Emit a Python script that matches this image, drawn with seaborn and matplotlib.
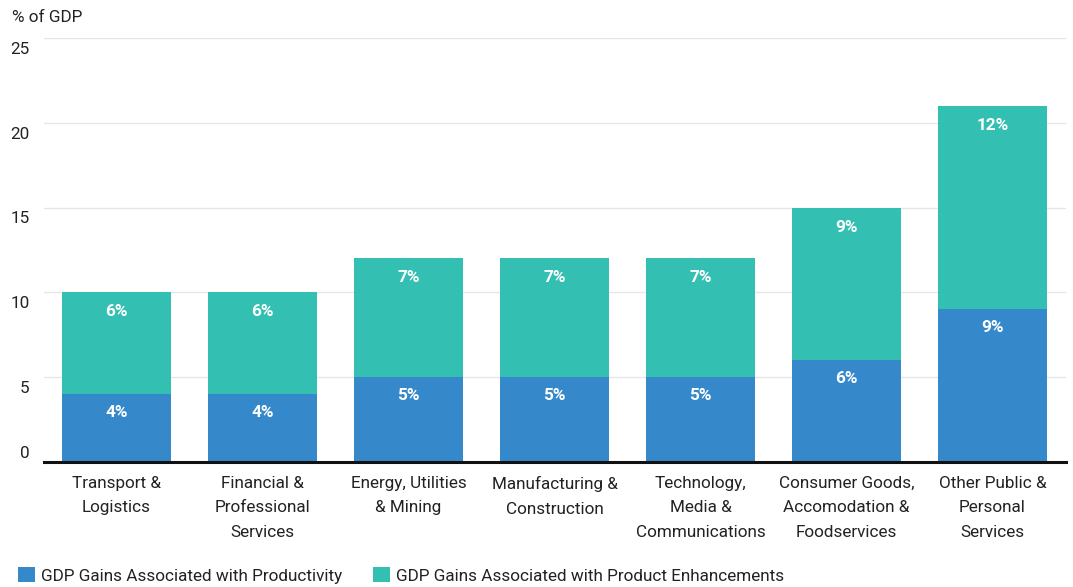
import matplotlib
matplotlib.use("Agg")
import matplotlib.pyplot as plt
import matplotlib.transforms as mtransforms
from matplotlib.patches import Patch
import seaborn as sns
import pandas as pd

categories = [
    "Transport &\nLogistics",
    "Financial &\nProfessional\nServices",
    "Energy, Utilities\n& Mining",
    "Manufacturing &\nConstruction",
    "Technology,\nMedia &\nCommunications",
    "Consumer Goods,\nAccomodation &\nFoodservices",
    "Other Public &\nPersonal\nServices",
]
productivity = [4, 4, 5, 5, 5, 6, 9]
enhancements = [6, 6, 7, 7, 7, 9, 12]
yticks = [0, 5, 10, 15, 20, 25]
series_names = ["GDP Gains Associated with Productivity",
                "GDP Gains Associated with Product Enhancements"]

BLUE = "#3589CB"
TEAL = "#33C0B3"
FS = 12.3

sns.set_style("white")
plt.rcParams["font.family"] = ["Roboto", "DejaVu Sans"]

df = pd.DataFrame({
    "cat": categories,
    "prod": productivity,
    "total": [p + e for p, e in zip(productivity, enhancements)],
    "enh": enhancements,
})

fig = plt.figure(figsize=(10.73, 5.87), dpi=100)
ax = fig.add_axes([43.5 / 1073, (587 - 462) / 587, (1065.5 - 43.5) / 1073, (462 - 38) / 587])

sns.barplot(data=df, x="cat", y="total", color=TEAL, saturation=1, width=0.75, ax=ax,
            zorder=2, linewidth=0, edgecolor="none")
sns.barplot(data=df, x="cat", y="prod", color=BLUE, saturation=1, width=0.75, ax=ax,
            zorder=3, linewidth=0, edgecolor="none")

ax.set_ylim(0, 25)
ax.set_xlim(-0.5, len(categories) - 0.5)
ax.set_yticks(yticks)
ax.set_yticklabels([str(t) for t in yticks])
ax.yaxis.grid(True, color="#e6e6e6", linewidth=1, zorder=0)
ax.set_axisbelow(True)
for s in ["top", "right", "left"]:
    ax.spines[s].set_visible(False)
ax.spines["bottom"].set_color("#111111")
ax.spines["bottom"].set_linewidth(2.2)
ax.spines["bottom"].set_zorder(5)
ax.set_xlabel("")
ax.set_ylabel("")
ax.tick_params(axis="both", length=0)
ax.tick_params(axis="y", pad=10, labelsize=FS, labelcolor="#222222")
ax.tick_params(axis="x", pad=10, labelsize=FS, labelcolor="#222222")
for lab in ax.get_xticklabels():
    lab.set_linespacing(1.8)

for lab, t in zip(ax.get_yticklabels(), yticks):
    dy = 7 / 72 if t == 0 else -7 / 72
    lab.set_transform(lab.get_transform() + mtransforms.ScaledTranslation(0, dy, fig.dpi_scale_trans))

for i, (p, e) in enumerate(zip(productivity, enhancements)):
    ax.annotate(f"{p}%", (i, p), xytext=(0, -13), textcoords="offset points",
                ha="center", va="center", color="white", fontsize=FS, fontweight="bold", zorder=6)
    ax.annotate(f"{e}%", (i, p + e), xytext=(0, -14), textcoords="offset points",
                ha="center", va="center", color="white", fontsize=FS, fontweight="bold", zorder=6)

fig.text(12 / 1073, 1 - 18 / 587, "% of GDP", ha="left", va="center", fontsize=FS, color="#222222")

handles = [Patch(facecolor=BLUE, edgecolor="none"), Patch(facecolor=TEAL, edgecolor="none")]
fig.legend(handles, series_names, loc="lower left", bbox_to_anchor=(3 / 1073, -12 / 587),
           ncol=2, frameon=False, fontsize=FS, handlelength=0.95, handleheight=0.95,
           handletextpad=0.4, columnspacing=1.8, labelcolor="#222222")

fig.savefig("out.png", dpi=100)
